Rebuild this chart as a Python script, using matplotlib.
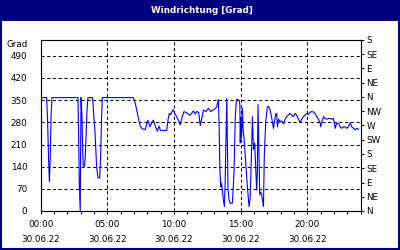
import matplotlib
matplotlib.use("Agg")
import matplotlib.pyplot as plt
from matplotlib.patches import Rectangle

title = "Windrichtung [Grad]"
y_label = "Grad"
left_ticks = [0, 70, 140, 210, 280, 350, 420, 490]
right_ticks = [0, 45, 90, 135, 180, 225, 270, 315, 360, 405, 450, 495, 540]
right_labels = ["N", "NE", "E", "SE", "S", "SW", "W", "NW", "N", "NE", "E", "SE", "S"]
x_ticks = [0, 5, 10, 15, 20]
x_labels = ["00:00\n30.06.22", "05:00\n30.06.22", "10:00\n30.06.22",
            "15:00\n30.06.22", "20:00\n30.06.22"]

hours = [0.0, 0.45, 0.52, 0.6, 0.66, 0.72, 0.78, 0.85, 2.8, 2.84, 2.9, 2.97, 3.03,
         3.1, 3.15, 3.2, 3.3, 3.36, 3.42, 3.48, 3.55, 3.88, 3.93, 4.0, 4.07, 4.13,
         4.2, 4.3, 4.43, 4.5, 4.57, 4.63, 6.95, 7.1, 7.3, 7.45, 7.6, 7.85, 8.03,
         8.2, 8.45, 8.6, 8.75, 8.88, 8.98, 9.2, 9.45, 9.56, 9.66, 9.75, 9.92,
         10.1, 10.3, 10.46, 10.6, 10.75, 10.95, 11.2, 11.46, 11.6, 11.73, 11.86,
         11.97, 12.1, 12.22, 12.4, 12.58, 12.75, 12.9, 13.05, 13.2, 13.33, 13.38,
         13.44, 13.5, 13.56, 13.63, 13.7, 13.78, 13.83, 13.9, 13.96, 14.05, 14.13,
         14.22, 14.38, 14.5, 14.6, 14.68, 14.88, 14.94, 14.97, 15.01, 15.06, 15.13,
         15.18, 15.26, 15.39, 15.51, 15.63, 15.71, 15.81, 15.88, 15.96, 16.05,
         16.12, 16.2, 16.25, 16.3, 16.36, 16.43, 16.52, 16.62, 16.71, 16.77, 16.88,
         17.0, 17.1, 17.2, 17.3, 17.46, 17.55, 17.62, 17.7, 17.76, 17.85, 17.95,
         18.05, 18.15, 18.22, 18.33, 18.45, 18.58, 18.7, 18.83, 18.95, 19.08, 19.2,
         19.33, 19.46, 19.58, 19.7, 19.83, 19.96, 20.08, 20.2, 20.33, 20.45, 20.58,
         20.7, 20.83, 20.96, 21.0, 21.1, 21.22, 21.33, 21.46, 21.58, 21.7, 21.83,
         21.95, 22.02, 22.09, 22.2, 22.33, 22.46, 22.58, 22.7, 22.83, 22.96, 23.08,
         23.21, 23.33, 23.46, 23.59, 23.7, 23.84]
degrees = [358, 358, 293, 161, 92, 161, 293, 358, 358, 269, 92, 0, 358,
           304, 200, 142, 142, 183, 256, 320, 358, 358, 340, 293, 256, 203,
           140, 106, 104, 171, 293, 358, 358, 340, 300, 270, 260, 257, 287,
           266, 287, 268, 252, 268, 255, 254, 254, 290, 309, 304, 320,
           305, 290, 272, 295, 314, 310, 302, 316, 306, 315, 310,
           270, 295, 319, 314, 324, 314, 318, 322, 328, 352, 278,
           135, 77, 88, 66, 35, 14, 80, 230, 356, 70, 35,
           24, 25, 120, 300, 352, 350, 336, 215, 294, 230, 325,
           260, 225, 146, 73, 14, 40, 178, 298, 194, 215,
           146, 66, 120, 336, 200, 52, 60, 40, 14, 170, 283,
           329, 330, 320, 300, 261, 285, 305, 308, 266, 290, 280,
           285, 280, 275, 290, 298, 303, 308, 303, 298, 308, 303,
           290, 279, 290, 298, 303, 308, 305, 312, 314, 313, 308,
           298, 290, 277, 266, 285, 298, 292, 290, 292, 292, 290,
           292, 280, 261, 277, 277, 266, 261, 266, 266, 261, 266,
           279, 266, 261, 256, 261, 258]

navy = "#000080"
W, H = 400, 250
fig = plt.figure(figsize=(4, 2.5), dpi=100)
fig.patch.set_facecolor("white")

# title bar and border
fig.patches.append(Rectangle((0, 1 - 20.5 / H), 1, 20.5 / H, transform=fig.transFigure,
                             facecolor=navy, edgecolor="none", zorder=0))
fig.patches.append(Rectangle((0.75 / W, 0.75 / H), 1 - 1.5 / W, 1 - 1.5 / H,
                             transform=fig.transFigure, facecolor="none",
                             edgecolor=navy, linewidth=1.5, zorder=5))
fig.text(202 / W, 1 - 10.5 / H, title, color="white", fontsize=6.3, fontweight="bold",
         ha="center", va="center")

ax = fig.add_axes([40.6 / W, 1 - 211 / H, (360.7 - 40.6) / W, (211 - 40) / H])
ax.plot(hours, degrees, color="#0000FF", linewidth=0.8)
ax.set_xlim(0, 24)
ax.set_ylim(0, 540)

ax.set_yticks(left_ticks)
ax.tick_params(axis="y", length=0, pad=9.5, labelsize=6.3)
ax.set_xticks(x_ticks)
ax.set_xticklabels(x_labels, fontsize=6.3, linespacing=1.8)
ax.set_xticks(range(0, 25), minor=True)
ax.tick_params(axis="x", which="both", direction="out", length=2.5, width=0.75,
               pad=4, labelsize=6.3)
ax.grid(True, which="major", color="black", linestyle=(0, (3, 2.5)), linewidth=0.75)
for s in ax.spines.values():
    s.set_linewidth(0.75)

ax2 = ax.twinx()
ax2.set_ylim(0, 540)
ax2.set_yticks(right_ticks)
ax2.set_yticklabels(right_labels)
ax2.tick_params(axis="y", direction="out", length=2.5, width=0.75, pad=1.5, labelsize=6.3)

fig.text(28 / W, 1 - 45 / H, y_label, fontsize=6.3, ha="right", va="center")

fig.savefig("out.png", dpi=100)
